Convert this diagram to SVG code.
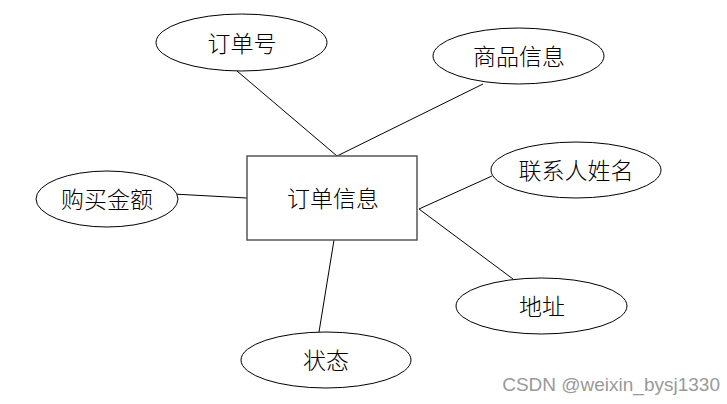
<svg xmlns="http://www.w3.org/2000/svg" width="727" height="404" viewBox="0 0 727 404">
<style>
.e{fill:#fff;stroke:#000;stroke-width:1}
.r{fill:#fff;stroke:#555;stroke-width:1.5}
.l{stroke:#000;stroke-width:1;fill:none}
.t{font-family:"Noto Sans CJK SC","Liberation Serif",sans-serif;font-size:23px;font-weight:300;fill:#000;text-anchor:middle;dominant-baseline:central}
.w{font-family:"Liberation Sans",Arial,sans-serif;font-size:19px;fill:#999;text-anchor:end}
</style>
<rect width="727" height="404" fill="#fff"/>
<g id="connectors">
<line class="l" x1="237" y1="71" x2="337" y2="156"/>
<line class="l" x1="483" y1="84" x2="337" y2="156"/>
<line class="l" x1="173" y1="194" x2="247" y2="198"/>
<line class="l" x1="492" y1="176" x2="419" y2="209"/>
<line class="l" x1="513" y1="279" x2="419" y2="209"/>
<line class="l" x1="334" y1="240" x2="319" y2="332"/>
</g>
<g id="order-info">
<rect class="r" x="247" y="156" width="170" height="84"/>
<text class="t" x="333" y="197">订单信息</text>
</g>
<g id="order-no">
<ellipse class="e" cx="241.5" cy="42.5" rx="85.5" ry="28.5"/>
<text class="t" x="242" y="42">订单号</text>
</g>
<g id="goods-info">
<ellipse class="e" cx="518.5" cy="56" rx="85.5" ry="28"/>
<text class="t" x="519" y="55">商品信息</text>
</g>
<g id="amount">
<ellipse class="e" cx="107" cy="199" rx="71" ry="28"/>
<text class="t" x="107" y="198">购买金额</text>
</g>
<g id="contact-name">
<ellipse class="e" cx="576" cy="170" rx="85" ry="28"/>
<text class="t" x="576" y="169">联系人姓名</text>
</g>
<g id="address">
<ellipse class="e" cx="541.5" cy="306" rx="85.5" ry="28"/>
<text class="t" x="542" y="305">地址</text>
</g>
<g id="status">
<ellipse class="e" cx="326" cy="360" rx="85" ry="28"/>
<text class="t" x="326" y="359">状态</text>
</g>
<text class="w" x="720" y="391">CSDN @weixin_bysj1330</text>
</svg>
